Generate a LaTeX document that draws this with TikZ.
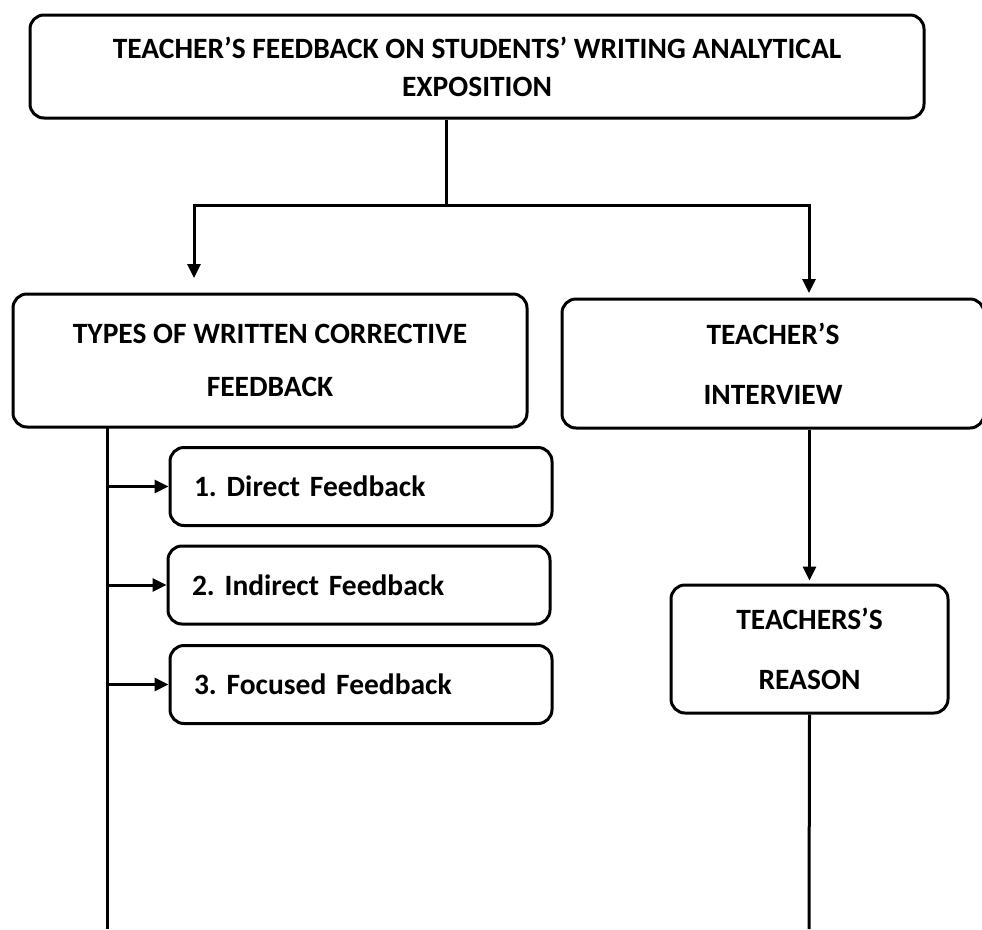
\documentclass[tikz,border=0pt]{standalone}
\usepackage{fontspec}
\setmainfont{Carlito}
\usetikzlibrary{arrows.meta,calc}
\frenchspacing
\tikzset{
  every picture/.style = {
    x=1pt, y=-1pt,
    font=\fontsize{29.5pt}{35pt}\selectfont\bfseries
  }
}
\tikzset{
  box/.style={
    draw,
    line width=3pt,
    rounded corners=14pt,
    inner sep=0pt,
    align=center
  },
  itembox/.style={
    box,
    minimum width=382pt,
    minimum height=78pt,
    inner xsep=24pt,
    text width=334pt,
    align=left
  },
  link/.style={
    line width=3pt
  },
  arr/.style={
    link,
    -{Triangle[length=14pt,width=13pt]}
  }
}
\begin{document}
\begin{tikzpicture}
    \useasboundingbox (0,0) rectangle (982,929);
    % boxes
    \node[box, minimum width=894pt, minimum height=103pt] (feedback) at (477,66.5)
        {TEACHER’S FEEDBACK ON STUDENTS’ WRITING ANALYTICAL\\[3pt] EXPOSITION};
    \node[box, minimum width=514pt, minimum height=133pt] (types) at (270,360.5)
        {TYPES OF WRITTEN CORRECTIVE\\[18pt] FEEDBACK};
    \node[box, minimum width=422pt, minimum height=129pt] (interview) at (773,363.5)
        {TEACHER’S\\[25pt] INTERVIEW};
    \node[itembox] (direct) at (361,486.5) {1. Direct Feedback};
    \node[itembox] (indirect) at (359,585) {2. Indirect Feedback};
    \node[itembox] (focused) at (361,684.5) {3. Focused Feedback};
    \node[box, minimum width=277pt, minimum height=128pt] (reason) at (809.5,649)
        {TEACHERS’S\\[25pt] REASON};
    % free ends
    \coordinate (fork) at (446,205);
    \coordinate (typestip) at (194,278);
    \coordinate (interviewtip) at (809,293);
    \coordinate (leftrail) at (107,427);
    \coordinate (leftend) at (107,929);
    \coordinate (rightend) at (809,929);
    % connectors
    \draw[link] (feedback.south -| fork) -- (fork);
    \draw[arr] (fork) -| (typestip);
    \draw[arr] (fork) -| (interviewtip);
    \draw[link] (leftrail) -- (leftend);
    \draw[arr] (leftrail |- direct.west) -- (direct.west);
    \draw[arr] (leftrail |- indirect.west) -- (indirect.west);
    \draw[arr] (leftrail |- focused.west) -- (focused.west);
    \draw[arr] (interview.south -| reason.north) -- ([yshift=3pt]reason.north);
    \draw[link] (reason.south) -- (rightend);
\end{tikzpicture}
\end{document}
